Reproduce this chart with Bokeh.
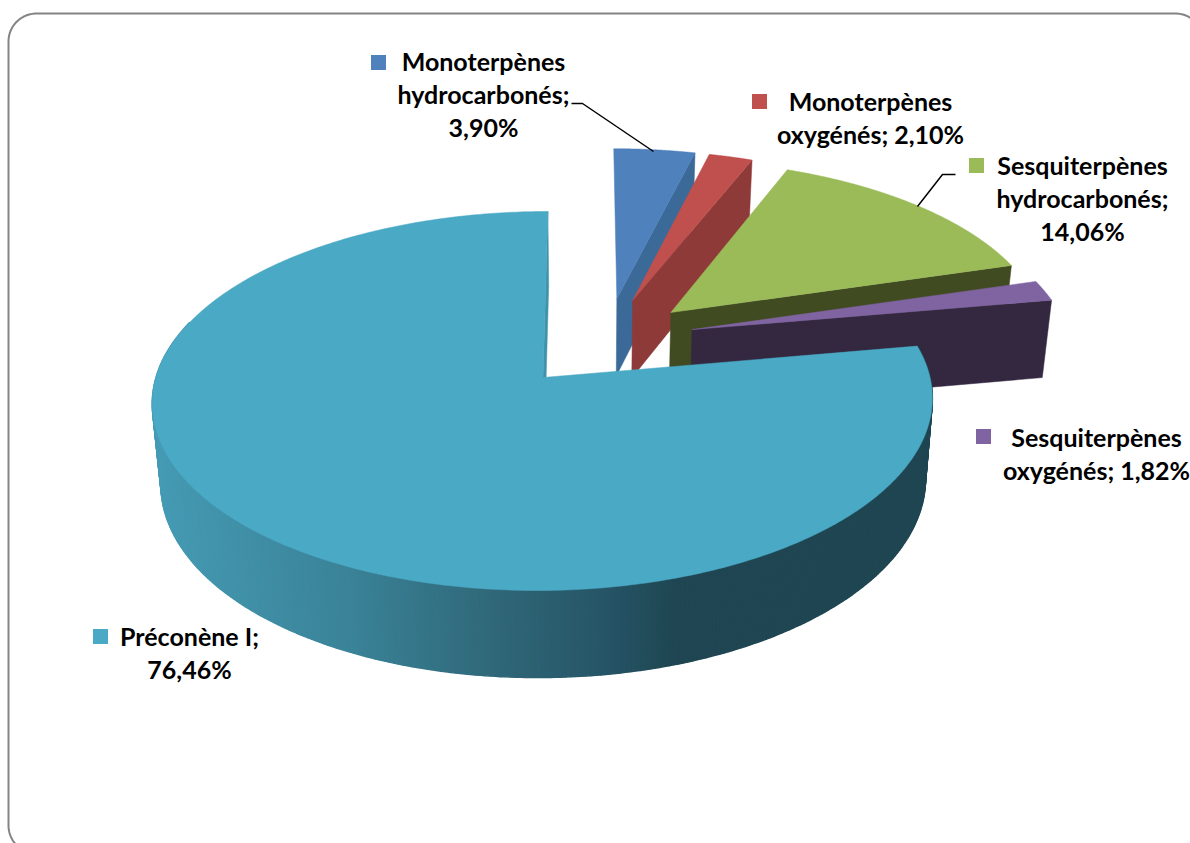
import numpy as np
from bokeh.plotting import figure
from bokeh.models import Range1d
from bokeh.core.properties import value
from bokeh.embed import file_html
from bokeh.resources import INLINE

# ---- data ----
categories = ["Monoterpènes hydrocarbonés", "Monoterpènes oxygénés", "Sesquiterpènes hydrocarbonés",
              "Sesquiterpènes oxygénés", "Préconène I"]
values = [3.90, 2.10, 14.06, 1.82, 76.46]
top_colors = ["#4F81BD", "#C0504D", "#9BBB59", "#8064A2", "#4AA9C5"]
wall_colors = ["#3B6998", "#8E3A38", "#414B22", "#332840", "#1F4652"]
label_lines = [["Monoterpènes", "hydrocarbonés;", "3,90%"],
               ["Monoterpènes", "oxygénés; 2,10%"],
               ["Sesquiterpènes", "hydrocarbonés;", "14,06%"],
               ["Sesquiterpènes", "oxygénés; 1,82%"],
               ["Préconène I;", "76,46%"]]

# ---- layout / style ----
explode = [(0.080, 0.446), (0.123, 0.435), (0.225, 0.364), (0.279, 0.265), (-0.115, 0.0)]
label_pos = [(483, 60), (870, 100), (1082, 164), (1096, 436), (189, 635)]
key_pos = [(378, 62), (759, 101), (976, 165), (983, 436), (100, 636)]
LINE_H = 33
VX, VY, F, G, P = 587.0, 377.0, 387.0, 186.6, 0.124   # perspective
DEPTH, K = 80.0, 0.98
FONT = value("Lato")
FS = "25px"

def proj(X, Y, low=False):
    X, Y = np.asarray(X, float), np.asarray(Y, float)
    s = 1 + P * Y
    x = F * X / s
    y = -G * Y / s
    if low:
        return VX + K * x, VY + K * y + DEPTH / s
    return VX + x, VY + y

def wedge(a0, a1, off, low=False, n=200):
    t = np.radians(np.linspace(a0, a1, n))
    return proj(off[0] + np.sin(t), off[1] + np.cos(t), low)

p = figure(width=1190, height=843, output_backend="svg", toolbar_location=None,
           x_range=Range1d(0, 1190), y_range=Range1d(843, 0), min_border=0,
           background_fill_color="white", border_fill_color="white", outline_line_color=None)
p.axis.visible = False
p.grid.visible = False

# rounded frame
bx0, bx1, by0, by1, br = 8, 1203, 13, 853, 28
c = np.linspace(0, np.pi / 2, 30)
fx = np.concatenate([bx0 + br - br * np.cos(c), bx1 - br + br * np.sin(c),
                     bx1 - br + br * np.cos(c), bx0 + br - br * np.sin(c), [bx0]])
fy = np.concatenate([by0 + br - br * np.sin(c), by0 + br - br * np.cos(c),
                     by1 - br + br * np.sin(c), by1 - br + br * np.cos(c), [by0 + br]])
p.line(fx, fy, line_color="#848484", line_width=2)

fr = np.array(values) / sum(values) * 360
edges = np.concatenate([[0], np.cumsum(fr)])

# exploded slices (all but the last), back to front
for i in range(4):
    a0, a1 = edges[i], edges[i + 1]
    off = explode[i]
    ax, ay = proj(off[0], off[1])
    bx, by = proj(off[0], off[1], True)
    t = np.radians(a1)
    ex, ey = proj(off[0] + np.sin(t), off[1] + np.cos(t))
    fx2, fy2 = proj(off[0] + np.sin(t), off[1] + np.cos(t), True)
    p.patch([ax, ex, fx2, bx], [ay, ey, fy2, by], fill_color=wall_colors[i], line_color=wall_colors[i], line_width=0.5)
    wx, wy = wedge(a0, a1, off)
    p.patch(np.r_[ax, wx], np.r_[ay, wy], fill_color=top_colors[i], line_color=top_colors[i], line_width=0.5)

# main slice
a0, a1 = edges[4], edges[5]
off = explode[4]
ax, ay = proj(off[0], off[1])
bx, by = proj(off[0], off[1], True)
ex, ey = proj(off[0], off[1] + 1)
fx2, fy2 = proj(off[0], off[1] + 1, True)
p.patch([ax, ex, fx2, bx], [ay, ey, fy2, by], fill_color="#3F93AB", line_color="#3F93AB", line_width=0.5)

stops_x = [150, 350, 500, 600, 675, 940]
stops_c = [(0x45, 0x9B, 0xB4), (0x3A, 0x82, 0x97), (0x2F, 0x66, 0x77), (0x26, 0x56, 0x68), (0x1F, 0x46, 0x52), (0x1F, 0x46, 0x52)]
tx, ty = wedge(a0, a1, off, n=420)
lx, ly = wedge(a0, a1, off, low=True, n=420)
angles = np.linspace(a0, a1, 420)
# the side band, cut in narrow pieces, only where it faces the viewer
xs_side, ys_side, cols = [], [], []
for j in range(419):
    if np.cos(np.radians(angles[j])) > 0.3:
        continue
    mid = 0.5 * (tx[j] + tx[j + 1])
    col = "#%02X%02X%02X" % tuple(int(round(np.interp(mid, stops_x, [q[k] for q in stops_c]))) for k in range(3))
    xs_side.append([tx[j], tx[j + 1], lx[j + 1], lx[j]])
    ys_side.append([ty[j], ty[j + 1], ly[j + 1], ly[j]])
    cols.append(col)
p.patches(xs_side, ys_side, fill_color=cols, line_color=cols, line_width=1.5)
p.patch(np.r_[ax, tx], np.r_[ay, ty], fill_color=top_colors[4], line_color=top_colors[4], line_width=0.5)

# leader lines
p.line([571, 582, 653], [103, 103, 151], line_color="black", line_width=1.5)
p.line([955, 942, 917], [174, 174, 206], line_color="black", line_width=1.5)

# labels and keys
for i, lines in enumerate(label_lines):
    cx, cy = label_pos[i]
    p.text([cx] * len(lines), [cy + LINE_H * k for k in range(len(lines))], text=lines,
           text_font=FONT, text_font_style="bold", text_font_size=FS, text_color="black",
           text_align="center", text_baseline="middle")
    p.scatter([key_pos[i][0]], [key_pos[i][1]], marker="square", size=15,
              fill_color=top_colors[i], line_color=None)

open("out.html", "w").write(file_html(p, INLINE))
